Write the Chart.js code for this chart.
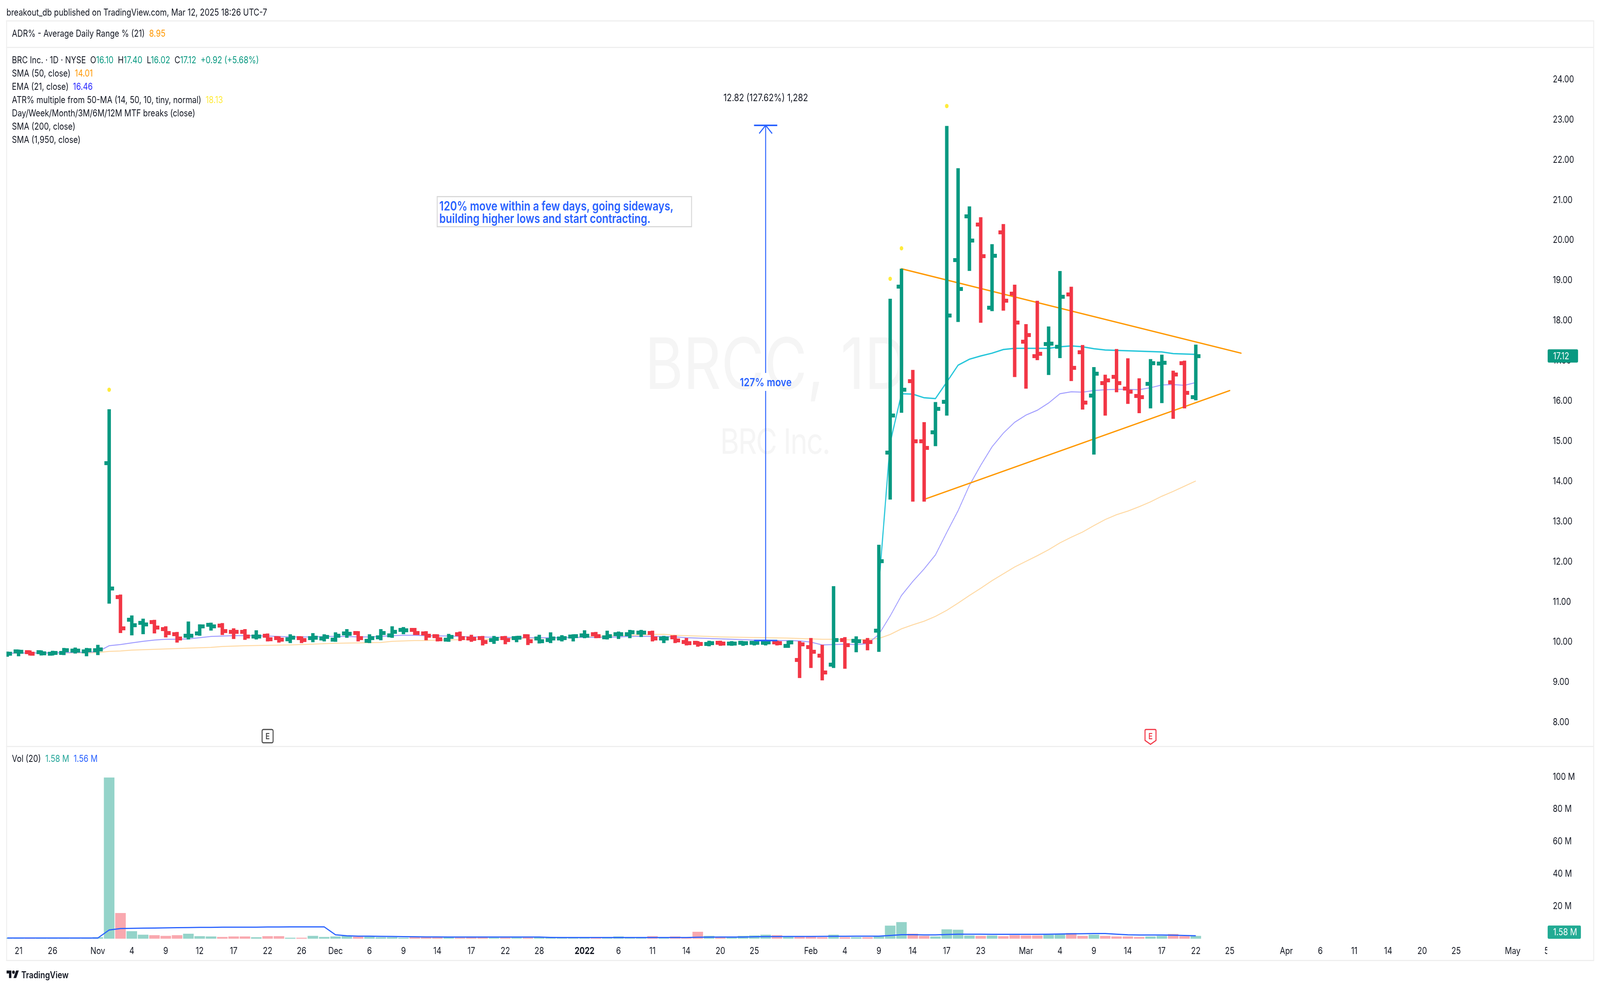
<!DOCTYPE html>
<html>
<head>
<meta charset="utf-8">
<title>BRC Inc. 1D</title>
<script src="https://cdn.jsdelivr.net/npm/chart.js@4"></script>
<style>
html,body{margin:0;padding:0;background:#fff;width:100%;height:100%;overflow:hidden;font-family:Inter,sans-serif;color:#131722}
#stage{position:absolute;left:0;top:0;width:4950px;height:2530px;transform-origin:0 0;overflow:hidden}
.abs{position:absolute;white-space:pre}
.rule{position:absolute;background:#efefef}
canvas{position:absolute;left:0}
.leg{font-size:24px;line-height:30px;left:37px}
</style>
</head>
<body>
<div id="stage">
<div class="rule" style="left:19px;top:52px;width:4913px;height:3px"></div>
<div class="rule" style="left:19px;top:120px;width:4913px;height:3px"></div>
<div class="rule" style="left:19px;top:1910px;width:4913px;height:3px"></div>
<div class="rule" style="left:19px;top:2458px;width:4913px;height:3px"></div>
<div class="rule" style="left:19px;top:52px;width:3px;height:2409px"></div>
<div class="rule" style="left:4929px;top:52px;width:3px;height:2409px"></div>

<div class="abs" style="left:1995px;top:820px;font-size:182px;line-height:220px;color:#f5f5f5">BRCC, 1D</div>
<div class="abs" style="left:2228px;top:1073px;font-size:90px;line-height:114px;letter-spacing:-3px;color:#f5f5f5">BRC Inc.</div>

<canvas id="priceChart" width="4950" height="1788" style="top:123px;width:4950px;height:1788px"></canvas>
<canvas id="volChart" width="4950" height="545" style="top:1913px;width:4950px;height:545px"></canvas>

<div class="abs" style="left:20px;top:17px;font-size:24px;line-height:30px">breakout_db published on TradingView.com, Mar 12, 2025 18:26 UTC-7</div>
<div class="abs leg" style="top:71px">ADR% - Average Daily Range % (21)  <span style="color:#ff9800">8.95</span></div>
<div class="abs leg" style="top:139px">BRC Inc. · 1D · NYSE  O<span style="color:#089981">16.10</span>  H<span style="color:#089981">17.40</span>  L<span style="color:#089981">16.02</span>  C<span style="color:#089981">17.12</span>  <span style="color:#089981">+0.92 (+5.68%)</span></div>
<div class="abs leg" style="top:173px">SMA (50, close)  <span style="color:#ff9800">14.01</span></div>
<div class="abs leg" style="top:207px">EMA (21, close)  <span style="color:#2a2aff">16.46</span></div>
<div class="abs leg" style="top:241px">ATR% multiple from 50-MA (14, 50, 10, tiny, normal)  <span style="color:#ffeb3b">18.13</span></div>
<div class="abs leg" style="top:275px">Day/Week/Month/3M/6M/12M MTF breaks (close)</div>
<div class="abs leg" style="top:309px">SMA (200, close)</div>
<div class="abs leg" style="top:343px">SMA (1,950, close)</div>
<div class="abs leg" style="top:1928px">Vol (20)  <span style="color:#26a69a">1.58 M</span>  <span style="color:#2962ff">1.56 M</span></div>

<div class="abs" style="left:2215px;top:235px;width:308px;text-align:center;font-size:25.5px;line-height:30px">12.82 (127.62%) 1,282</div>
<div class="abs" style="left:2269px;top:961px;width:200px;text-align:center;font-size:29px;line-height:36px;font-weight:600;color:#2962ff">127% move</div>
<div class="abs" style="left:1351px;top:502px;width:779px;height:74px;border:3px solid #d9d9d9;background:#fff;color:#2962ff;font-size:32px;line-height:32px;font-weight:600;padding-left:5px;box-sizing:content-box"><div style="padding-top:7px">120% move within a few days, going sideways,
building higher lows and start contracting.</div></div>

<svg class="abs" style="left:20px;top:2481px" width="39" height="30" viewBox="0 0 36 28"><path fill="#131722" d="M14 22H7V11H0V4h14v18zM28 22h-8l7.5-18h8L28 22z"/><circle fill="#131722" cx="20" cy="8" r="4"/></svg>
<div class="abs" style="left:66px;top:2481px;font-size:24px;line-height:32px;font-weight:600">TradingView</div>
</div>

<script>
// the browser window can be smaller than the chart was laid out for
document.getElementById('stage').style.transform =
  'scale(' + (window.innerWidth / 4950) + ',' + (window.innerHeight / 2530) + ')';

// OHLC, one entry per trading day
const opens = [9.70,9.77,9.75,9.75,9.71,9.73,9.79,9.77,9.80,14.45,
  11.12,10.56,10.48,10.50,10.32,10.20,10.16,10.22,10.43,10.41,
  10.26,10.26,10.14,10.16,10.10,10.07,10.10,10.10,10.09,10.06,
  10.22,10.23,10.03,10.12,10.17,10.30,10.30,10.22,10.15,10.06,
  10.20,10.09,10.10,10.05,10.10,10.10,10.15,10.09,10.05,10.09,
  10.14,10.17,10.20,10.12,10.20,10.20,10.24,10.23,10.09,10.12,
  10.00,9.98,9.95,9.98,9.96,9.98,9.98,9.98,9.99,9.91,
  9.56,9.88,9.66,9.44,10.05,10.03,10.01,10.28,14.72,18.85,
  16.49,15.00,15.22,15.98,19.51,20.59,20.39,18.32,20.20,18.67,
  17.48,17.12,17.42,17.35,18.65,17.21,16.13,16.45,16.60,16.31,
  16.12,16.43,16.93,16.46,16.94,16.10];
const highs = [9.76,9.81,9.79,9.79,9.78,9.85,9.86,9.85,9.93,15.79,
  11.18,10.66,10.58,10.55,10.39,10.25,10.51,10.44,10.48,10.47,
  10.34,10.32,10.29,10.21,10.14,10.19,10.14,10.22,10.19,10.24,
  10.32,10.27,10.19,10.32,10.39,10.37,10.35,10.27,10.19,10.20,
  10.26,10.18,10.15,10.15,10.15,10.15,10.19,10.18,10.24,10.17,
  10.19,10.29,10.25,10.28,10.26,10.30,10.30,10.28,10.15,10.17,
  10.10,10.02,10.03,10.03,10.02,10.02,10.02,10.03,10.03,10.03,
  10.02,10.10,9.93,11.39,10.12,10.14,10.10,12.42,18.54,19.29,
  16.77,15.47,15.97,22.84,21.79,20.84,20.57,19.90,20.40,18.89,
  17.91,18.49,17.85,19.23,18.84,17.39,16.84,16.65,17.29,17.06,
  16.56,17.04,17.15,16.75,17.00,17.40];
const lows = [9.64,9.65,9.67,9.67,9.67,9.68,9.72,9.65,9.68,10.96,
  10.23,10.17,10.20,10.22,10.12,9.99,10.07,10.16,10.29,10.18,
  10.08,10.06,10.07,10.02,9.99,9.98,9.98,10.00,10.02,10.01,
  10.11,10.02,9.98,10.05,10.11,10.20,10.18,10.05,10.02,10.01,
  10.03,10.01,9.92,9.96,9.95,10.00,9.93,9.97,9.98,10.02,
  10.02,10.10,10.10,10.07,10.08,10.10,10.13,10.02,9.98,9.98,
  9.92,9.89,9.90,9.91,9.91,9.91,9.92,9.92,9.92,9.86,
  9.11,9.36,9.05,9.36,9.34,9.75,9.80,9.76,13.55,15.71,
  13.50,13.50,14.88,15.64,17.97,19.24,17.95,18.24,18.25,16.60,
  16.31,17.02,16.65,17.07,16.50,15.79,14.67,15.64,16.22,15.93,
  15.70,15.82,15.95,15.56,15.82,16.02];
const closes = [9.71,9.76,9.71,9.72,9.73,9.80,9.79,9.80,9.82,11.33,
  10.34,10.42,10.44,10.36,10.23,10.09,10.16,10.39,10.39,10.27,
  10.26,10.14,10.14,10.07,10.06,10.11,10.05,10.11,10.13,10.16,
  10.21,10.10,10.10,10.23,10.26,10.29,10.23,10.16,10.07,10.13,
  10.10,10.08,10.00,10.08,10.05,10.11,10.02,10.02,10.09,10.10,
  10.15,10.16,10.15,10.15,10.20,10.25,10.24,10.09,10.09,10.04,
  9.97,9.95,9.97,9.96,9.96,9.97,9.98,9.99,9.97,9.99,
  9.94,9.76,9.24,10.05,9.92,10.02,10.00,12.01,15.64,16.28,
  15.00,14.83,15.80,18.13,18.79,19.99,19.60,19.61,18.50,17.95,
  17.64,17.17,17.43,18.59,16.82,15.96,16.68,16.51,16.45,16.23,
  16.10,16.94,16.95,16.66,16.20,17.12];
// 1 green, 0 red
const priceUp = [1,1,0,1,1,1,1,1,1,1,
  0,1,1,0,0,0,1,1,1,0,
  0,0,1,0,0,1,0,1,1,1,
  1,0,1,1,1,1,0,0,0,1,
  0,0,0,1,0,1,0,1,1,1,
  1,1,0,1,1,1,1,0,1,0,
  0,0,1,0,1,1,1,1,0,1,
  0,0,0,1,0,1,0,1,1,1,
  0,0,1,1,1,1,0,1,0,0,
  0,0,1,1,0,0,1,0,0,0,
  0,1,1,0,0,1];

const ema21 = [9.72,9.73,9.73,9.73,9.73,9.74,9.74,9.75,9.76,9.91,
  9.94,9.98,10.02,10.05,10.07,10.07,10.08,10.11,10.14,10.15,
  10.16,10.16,10.16,10.15,10.14,10.13,10.13,10.13,10.14,10.14,
  10.14,10.13,10.13,10.14,10.16,10.17,10.17,10.16,10.155,10.15,
  10.14,10.13,10.13,10.12,10.12,10.11,10.11,10.11,10.11,10.11,
  10.115,10.12,10.12,10.12,10.13,10.14,10.145,10.14,10.14,10.13,
  10.11,10.10,10.09,10.08,10.07,10.06,10.05,10.05,10.04,10.04,
  10.03,10.00,9.93,9.94,9.95,9.94,9.96,10.19,10.65,11.16,
  11.51,11.82,12.17,12.73,13.27,13.90,14.40,14.86,15.20,15.47,
  15.65,15.77,15.95,16.18,16.23,16.22,16.26,16.28,16.29,16.29,
  16.28,16.33,16.40,16.41,16.39,16.46];
const sma50 = [9.72,9.72,9.73,9.73,9.73,9.73,9.73,9.73,9.74,9.77,
  9.78,9.80,9.81,9.82,9.83,9.84,9.85,9.86,9.87,9.89,
  9.90,9.91,9.915,9.92,9.925,9.93,9.94,9.95,9.96,9.97,
  9.975,9.98,9.985,9.99,10.02,10.03,10.04,10.04,10.05,10.055,
  10.06,10.06,10.07,10.07,10.08,10.09,10.095,10.10,10.105,10.11,
  10.12,10.13,10.14,10.155,10.16,10.17,10.18,10.19,10.195,10.17,
  10.16,10.15,10.14,10.13,10.125,10.12,10.115,10.11,10.105,10.10,
  10.09,10.08,10.07,10.07,10.06,10.05,10.07,10.09,10.19,10.33,
  10.43,10.52,10.64,10.79,10.97,11.16,11.34,11.53,11.70,11.87,
  12.01,12.15,12.30,12.47,12.61,12.74,12.90,13.05,13.17,13.26,
  13.37,13.49,13.63,13.75,13.88,14.01];
// cyan line only exists from day 77 on
const cyanStart = 77;
const cyanLine = [11.40,14.96,16.18,16.17,16.08,16.06,16.47,16.89,17.04,17.12,
  17.19,17.28,17.31,17.31,17.31,17.31,17.35,17.37,17.35,17.30,
  17.27,17.26,17.25,17.24,17.23,17.22,17.18,17.17,17.16];

// yellow ATR% dots
const atrDays = [9,78,79,83];
const atrPrices = [16.28,19.04,19.80,23.34];

// hand drawn triangle
const upperDays = [79,109];
const upperPrices = [19.29,17.19];
const lowerDays = [81,108];
const lowerPrices = [13.55,16.26];

// measure tool
const measureDay = 67;
const measureLow = 10.04;
const measureHigh = 22.86;

const earningsPast = [23];
const earningsNext = [101];

// volume in millions
const volumes = [0.35,0.35,0.35,0.35,0.35,0.35,0.5,0.5,0.7,99.5,
  15.7,4.5,2.3,2.0,1.6,2.0,2.9,1.4,1.2,0.9,
  1.2,1.2,0.7,1.4,1.4,0.45,0.45,1.6,0.9,1.2,
  1.6,1.1,1.1,0.7,0.7,0.45,0.7,0.7,0.7,0.7,
  0.45,0.7,0.7,0.45,0.45,0.45,0.45,0.7,0.7,0.6,
  0.45,0.5,0.45,0.45,1.2,0.55,0.55,1.4,0.55,1.2,
  0.55,4.1,1.6,0.7,0.7,1.6,1.8,2.3,2.0,1.4,
  1.4,1.2,0.7,2.3,0.7,0.7,0.7,1.2,7.9,10.1,
  2.9,1.6,1.2,5.6,5.4,1.8,1.6,1.8,1.4,2.0,
  1.8,1.8,2.3,2.7,3.3,1.6,2.3,1.6,1.2,1.2,
  0.9,1.2,1.6,2.7,1.4,1.58];
const volUp = [1,1,0,1,1,1,1,1,1,1,
  0,1,1,0,0,0,1,1,1,0,
  0,0,1,0,0,1,0,1,1,1,
  1,0,1,1,1,1,0,0,0,1,
  0,0,0,1,0,1,0,1,1,1,
  1,1,0,1,1,1,1,0,1,0,
  0,0,1,0,1,1,1,1,0,1,
  0,0,0,1,0,1,0,1,1,1,
  0,0,1,1,1,1,0,1,0,0,
  0,0,1,1,0,0,1,0,0,0,
  0,1,1,0,0,1];
const volMa = [0.3,0.3,0.3,0.3,0.3,0.3,0.3,0.3,0.3,5.3,
  6.2,6.3,6.4,6.5,6.6,6.7,6.8,6.9,6.9,7.0,
  7.0,7.05,7.05,7.15,7.15,7.2,7.2,7.2,7.2,2.3,
  1.7,1.45,1.45,1.35,1.27,1.18,1.1,1.0,1.0,0.95,
  0.95,0.95,0.95,0.9,0.9,0.9,0.9,0.9,0.7,0.65,
  0.6,0.6,0.6,0.6,0.6,0.6,0.6,0.6,0.6,0.6,
  0.6,0.8,0.85,0.9,0.9,0.95,1.1,1.2,1.25,1.3,
  1.3,1.3,1.35,1.4,1.4,1.45,1.45,1.45,1.9,2.35,
  2.35,2.25,2.25,2.5,2.7,2.7,2.7,2.6,2.6,2.6,
  2.6,2.6,2.7,2.8,2.9,3.0,3.1,3.1,2.7,2.3,
  2.2,2.2,2.2,2.1,1.9,1.7];

// axes
const priceTicks = [24,23,22,21,20,19,18,17,16,15,14,13,12,11,10,9,8];
const volTicks = [100,80,60,40,20];
const timeTickDays = [1,4,8,11,14,17,20,23,26,29,32,35,38,41,44,47,51,54,57,60,63,66,71,74,77,80,83,86,90,93,96,99,102,105,108,113,116,119,122,125,128,133,136];
const timeTickLabels = ['21','26','Nov','4','9','12','17','22','26','Dec','6','9','14','17','22','28','2022','6','11','14','20','25','Feb','4','9','14','17','23','Mar','4','9','14','17','22','25','Apr','6','11','14','20','25','May','5'];
const yearTick = 51;

const GREEN = '#089981';
const RED = '#F23645';
const BLUE = '#2962FF';
const FONT = 'Inter, sans-serif';
const TEXT = '#131722';
const DAY_MIN = -0.07;
const DAY_MAX = 136;

function points(days, vals) {
  return vals.map((y, i) => ({x: days[i], y: y}));
}
function daily(vals, start) {
  return vals.map((y, i) => ({x: i + (start || 0), y: y}));
}

// open is a tick to the left of the bar, close to the right
function tickImage(color, side) {
  const c = document.createElement('canvas');
  c.width = 30; c.height = 10;
  const g = c.getContext('2d');
  g.fillStyle = color;
  g.fillRect(side === 'left' ? 0 : 15, 0, 15, 10);
  return c;
}
const tickImgs = {
  left: [tickImage(RED, 'left'), tickImage(GREEN, 'left')],
  right: [tickImage(RED, 'right'), tickImage(GREEN, 'right')]
};

function rr(g, x, y, w, h, r) {
  g.beginPath();
  g.roundRect(x, y, w, h, r);
}

const priceExtras = {
  id: 'priceExtras',
  afterDraw(chart) {
    const g = chart.ctx, xs = chart.scales.x, ys = chart.scales.y;
    // measure arrow, line is broken around its caption
    const mx = xs.getPixelForValue(measureDay);
    const top = ys.getPixelForValue(measureHigh), low = ys.getPixelForValue(measureLow);
    const gapA = 955 - 123, gapB = 1001 - 123;
    g.save();
    g.strokeStyle = BLUE;
    g.lineWidth = 3;
    g.beginPath();
    g.moveTo(mx, top); g.lineTo(mx, gapA);
    g.moveTo(mx, gapB); g.lineTo(mx, low);
    g.moveTo(mx - 20, top + 21); g.lineTo(mx, top); g.lineTo(mx + 20, top + 21);
    g.stroke();
    g.lineWidth = 4;
    g.beginPath();
    g.moveTo(mx - 36, top); g.lineTo(mx + 36, top);
    g.moveTo(mx - 36, low); g.lineTo(mx + 36, low);
    g.stroke();
    // earnings badges
    const bTop = 1867 - 123;
    g.lineWidth = 3;
    g.textAlign = 'center';
    g.textBaseline = 'middle';
    earningsPast.forEach(d => {
      const x = xs.getPixelForValue(d);
      g.strokeStyle = '#4a4a4a';
      rr(g, x - 17, bTop + 1, 34, 34, 4);
      g.stroke();
      g.fillStyle = '#4a4a4a';
      g.font = '600 22px ' + FONT;
      g.fillText('E', x, bTop + 19);
    });
    earningsNext.forEach(d => {
      const x = xs.getPixelForValue(d);
      g.strokeStyle = RED;
      g.lineJoin = 'round';
      g.beginPath();
      g.moveTo(x - 14, bTop + 1); g.lineTo(x + 14, bTop + 1);
      g.quadraticCurveTo(x + 17, bTop + 1, x + 17, bTop + 4);
      g.lineTo(x + 17, bTop + 29); g.lineTo(x, bTop + 39); g.lineTo(x - 17, bTop + 29);
      g.lineTo(x - 17, bTop + 4);
      g.quadraticCurveTo(x - 17, bTop + 1, x - 14, bTop + 1);
      g.closePath();
      g.stroke();
      g.fillStyle = RED;
      g.font = '600 22px ' + FONT;
      g.fillText('E', x, bTop + 19);
    });
    // last price tag
    const last = closes[closes.length - 1];
    const ly = ys.getPixelForValue(last);
    g.fillStyle = GREEN;
    rr(g, 4788, ly - 17, 94, 34, 4);
    g.fill();
    g.fillStyle = '#fff';
    g.textAlign = 'left';
    g.font = '24px ' + FONT;
    g.fillText(last.toFixed(2), 4805, ly + 1);
    g.restore();
  }
};

const volExtras = {
  id: 'volExtras',
  afterDraw(chart) {
    const g = chart.ctx, a = chart.chartArea;
    g.save();
    // the last date label is cut by the price scale
    g.fillStyle = '#fff';
    g.fillRect(a.right + 2, a.bottom + 2, 40, 45);
    const last = volumes[volumes.length - 1];
    const ly = a.bottom - 21;
    g.fillStyle = '#22ab94';
    rr(g, 4788, ly - 17, 103, 34, 4);
    g.fill();
    g.fillStyle = '#fff';
    g.textAlign = 'left';
    g.textBaseline = 'middle';
    g.font = '24px ' + FONT;
    g.fillText(last.toFixed(2) + ' M', 4805, ly + 1);
    g.restore();
  }
};

Chart.defaults.animation = false;
Chart.defaults.devicePixelRatio = 1;
Chart.defaults.font.family = FONT;
Chart.defaults.font.size = 24;
Chart.defaults.color = TEXT;

// y = 172 + (24 - v) * 106.9 in layout pixels
const priceMax = 24 + (172 - 123) / 106.9;
const priceMin = 24 - (1911 - 172) / 106.9;

new Chart(document.getElementById('priceChart'), {
  type: 'bar',
  data: {
    datasets: [
      {type: 'line', data: daily(sma50), borderColor: '#ffd9a3', borderWidth: 2.5, pointRadius: 0, tension: 0, order: 12},
      {type: 'line', data: daily(ema21), borderColor: '#a09cff', borderWidth: 2.5, pointRadius: 0, tension: 0, order: 11},
      {type: 'line', data: daily(cyanLine, cyanStart), borderColor: '#26c6da', borderWidth: 3.5, pointRadius: 0, tension: 0, order: 10},
      {type: 'line', data: points(upperDays, upperPrices), borderColor: '#ff9800', borderWidth: 3.5, borderCapStyle: 'round', pointRadius: 0, order: 9},
      {type: 'line', data: points(lowerDays, lowerPrices), borderColor: '#ff9800', borderWidth: 3.5, borderCapStyle: 'round', pointRadius: 0, order: 9},
      {
        type: 'bar',
        data: highs.map((h, i) => ({x: i, y: [lows[i], h]})),
        backgroundColor: priceUp.map(u => u ? GREEN : RED),
        barThickness: 10,
        order: 3
      },
      {
        type: 'line', showLine: false, data: daily(opens), order: 2, pointRadius: 10,
        pointStyle: c => tickImgs.left[priceUp[c.dataIndex]]
      },
      {
        type: 'line', showLine: false, data: daily(closes), order: 2, pointRadius: 10,
        pointStyle: c => tickImgs.right[priceUp[c.dataIndex]]
      },
      {
        type: 'line', showLine: false, data: points(atrDays, atrPrices), order: 1,
        pointRadius: 5.5, pointBackgroundColor: '#ffeb3b', pointBorderWidth: 0
      }
    ]
  },
  options: {
    responsive: false,
    events: [],
    layout: {padding: {left: 20}},
    plugins: {legend: {display: false}, tooltip: {enabled: false}},
    scales: {
      x: {type: 'linear', min: DAY_MIN, max: DAY_MAX, offset: false, display: false},
      y: {
        position: 'right', min: priceMin, max: priceMax,
        grid: {display: false, drawTicks: false},
        border: {display: false},
        afterBuildTicks(s) { s.ticks = priceTicks.map(v => ({value: v})); },
        afterFit(s) { s.width = 165; },
        ticks: {padding: 19, autoSkip: false, callback: v => v.toFixed(2)}
      }
    }
  },
  plugins: [priceExtras]
});

// y = 2403 - v * 4.44 in layout pixels
const volBottomPx = 2408, volTopPx = 1913;
new Chart(document.getElementById('volChart'), {
  type: 'bar',
  data: {
    datasets: [
      {type: 'line', data: daily(volMa), borderColor: BLUE, borderWidth: 3, pointRadius: 0, tension: 0, order: 1},
      {
        type: 'bar',
        data: daily(volumes),
        backgroundColor: volUp.map(u => u ? 'rgba(8,153,129,0.43)' : 'rgba(242,54,69,0.43)'),
        barThickness: 32,
        order: 2
      }
    ]
  },
  options: {
    responsive: false,
    events: [],
    layout: {padding: {left: 20}},
    plugins: {legend: {display: false}, tooltip: {enabled: false}},
    scales: {
      x: {
        type: 'linear', min: DAY_MIN, max: DAY_MAX, offset: false,
        grid: {display: false, drawTicks: false},
        border: {display: false},
        afterBuildTicks(s) { s.ticks = timeTickDays.map(v => ({value: v})); },
        afterFit(s) { s.height = 50; },
        ticks: {
          padding: 13, autoSkip: false, maxRotation: 0,
          callback: v => timeTickLabels[timeTickDays.indexOf(v)],
          font: c => (c.tick && c.tick.value === yearTick) ? {weight: '700', size: 24} : {size: 24}
        }
      },
      y: {
        position: 'right',
        min: -(volBottomPx - 2403) / 4.44, max: (2403 - volTopPx) / 4.44,
        grid: {display: false, drawTicks: false},
        border: {display: false},
        afterBuildTicks(s) { s.ticks = volTicks.map(v => ({value: v})); },
        afterFit(s) { s.width = 165; },
        ticks: {padding: 19, autoSkip: false, callback: v => v + ' M'}
      }
    }
  },
  plugins: [volExtras]
});
</script>
</body>
</html>
